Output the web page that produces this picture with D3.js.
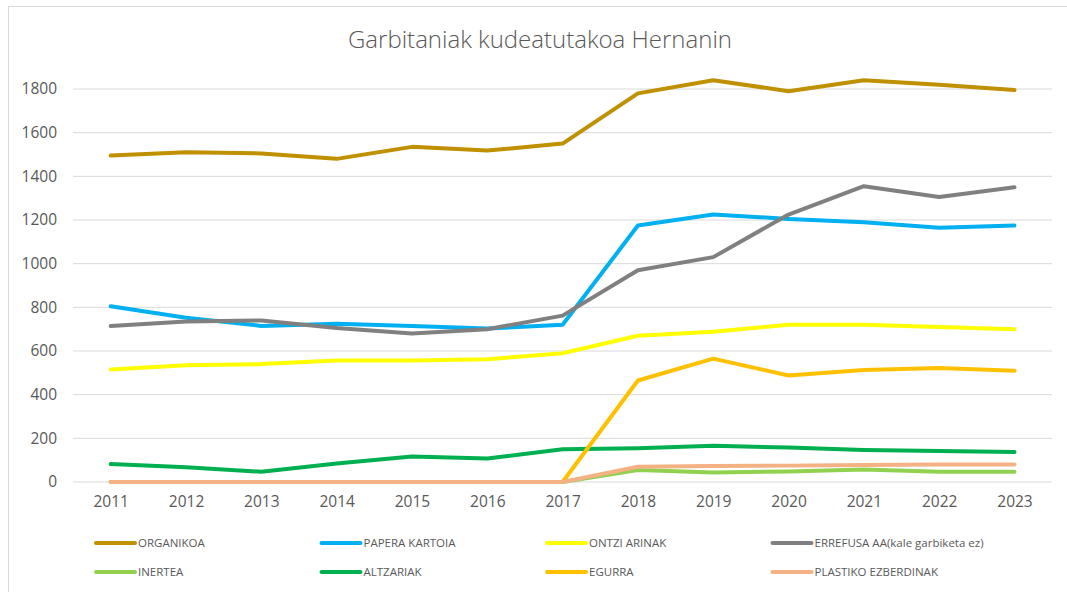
<!DOCTYPE html>
<html>
<head>
<meta charset="utf-8">
<script src="https://cdn.jsdelivr.net/npm/d3@7"></script>
<style>
  body { margin: 0; background: #fff; }
  svg { display: block; font-family: Carlito, "Open Sans", sans-serif; }
</style>
</head>
<body>
<div id="chart"></div>
<script>
// chart data
var years = ["2011","2012","2013","2014","2015","2016","2017","2018","2019","2020","2021","2022","2023"];
var yTicks = [0, 200, 400, 600, 800, 1000, 1200, 1400, 1600, 1800];

var organikoa  = [1495, 1510, 1505, 1480, 1535, 1518, 1550, 1780, 1840, 1790, 1840, 1820, 1795];
var papera     = [805, 752, 715, 725, 715, 703, 720, 1175, 1225, 1205, 1190, 1165, 1175];
var ontzi      = [515, 535, 540, 557, 557, 562, 590, 670, 688, 720, 720, 710, 700];
var errefusa   = [715, 735, 740, 705, 680, 700, 762, 970, 1030, 1225, 1355, 1305, 1350];
var inertea    = [0, 0, 0, 0, 0, 0, 0, 55, 44, 48, 57, 47, 47];
var altzariak  = [82, 68, 47, 85, 117, 108, 150, 155, 166, 158, 147, 142, 137];
var egurra     = [0, 0, 0, 0, 0, 0, 0, 465, 565, 488, 513, 522, 510];
var plastikoa  = [0, 0, 0, 0, 0, 0, 0, 70, 73, 75, 78, 80, 80];

var seriesNames = ["ORGANIKOA", "PAPERA KARTOIA", "ONTZI ARINAK", "ERREFUSA AA(kale garbiketa ez)",
                   "INERTEA", "ALTZARIAK", "EGURRA", "PLASTIKO EZBERDINAK"];
var seriesValues = [organikoa, papera, ontzi, errefusa, inertea, altzariak, egurra, plastikoa];
var seriesColors = ["#BF9000", "#00B0F0", "#FFFF00", "#808080", "#92D050", "#00B050", "#FFC000", "#F4B183"];

var svgWidth = 1067, svgHeight = 592;

var svg = d3.select("#chart").append("svg")
  .attr("width", svgWidth)
  .attr("height", svgHeight);

// outer chart border
svg.append("rect")
  .attr("x", 8.5).attr("y", 6.5)
  .attr("width", 1080).attr("height", 600)
  .attr("fill", "none")
  .attr("stroke", "#d9d9d9")
  .attr("stroke-width", 1);

var x = d3.scalePoint()
  .domain(years)
  .range([110.7, 1014.5]);

var y = d3.scaleLinear()
  .domain([0, 1800])
  .range([482, 89]);

// title
svg.append("text")
  .attr("x", 540)
  .attr("y", 48)
  .attr("text-anchor", "middle")
  .attr("font-size", "24px")
  .attr("fill", "#595959")
  .attr("font-family", "'Open Sans', sans-serif")
  .attr("font-weight", 300)
  .text("Garbitaniak kudeatutakoa Hernanin");

// gridlines
svg.append("g")
  .selectAll("line")
  .data(yTicks)
  .join("line")
  .attr("x1", 73).attr("x2", 1052)
  .attr("y1", d => y(d)).attr("y2", d => y(d))
  .attr("stroke", "#d9d9d9")
  .attr("stroke-width", 1);

// y axis labels
var yAxis = d3.axisLeft(y).tickValues(yTicks).tickFormat(d3.format("d")).tickSize(0).tickPadding(16);
svg.append("g")
  .attr("transform", "translate(73,0)")
  .call(yAxis)
  .call(g => g.select(".domain").remove())
  .selectAll("text")
  .attr("font-size", "15.5px")
  .attr("fill", "#595959")
  .attr("font-family", "'Open Sans', sans-serif");

// x axis labels
var xAxis = d3.axisBottom(x).tickSize(0).tickPadding(14);
svg.append("g")
  .attr("transform", "translate(0,482)")
  .call(xAxis)
  .call(g => g.select(".domain").remove())
  .selectAll("text")
  .attr("font-size", "15.5px")
  .attr("fill", "#595959")
  .attr("font-family", "'Open Sans', sans-serif");

var line = d3.line()
  .x((d, i) => x(years[i]))
  .y(d => y(d));

svg.append("g")
  .selectAll("path")
  .data(seriesValues)
  .join("path")
  .attr("d", d => line(d))
  .attr("fill", "none")
  .attr("stroke", (d, i) => seriesColors[i])
  .attr("stroke-width", 4)
  .attr("stroke-linejoin", "round")
  .attr("stroke-linecap", "round");

// legend
var legend = svg.append("g");
var item = legend.selectAll("g")
  .data(seriesNames)
  .join("g")
  .attr("transform", (d, i) => "translate(" + (96 + (i % 4) * 225.5) + "," + (543 + Math.floor(i / 4) * 29) + ")");

item.append("line")
  .attr("x1", 0).attr("x2", 39)
  .attr("stroke", (d, i) => seriesColors[i])
  .attr("stroke-width", 4)
  .attr("stroke-linecap", "round");

item.append("text")
  .attr("x", 42)
  .attr("dy", "0.35em")
  .attr("font-size", "11.5px")
  .attr("fill", "#595959")
  .attr("font-family", "'Open Sans', sans-serif")
  .text(d => d);
</script>
</body>
</html>
